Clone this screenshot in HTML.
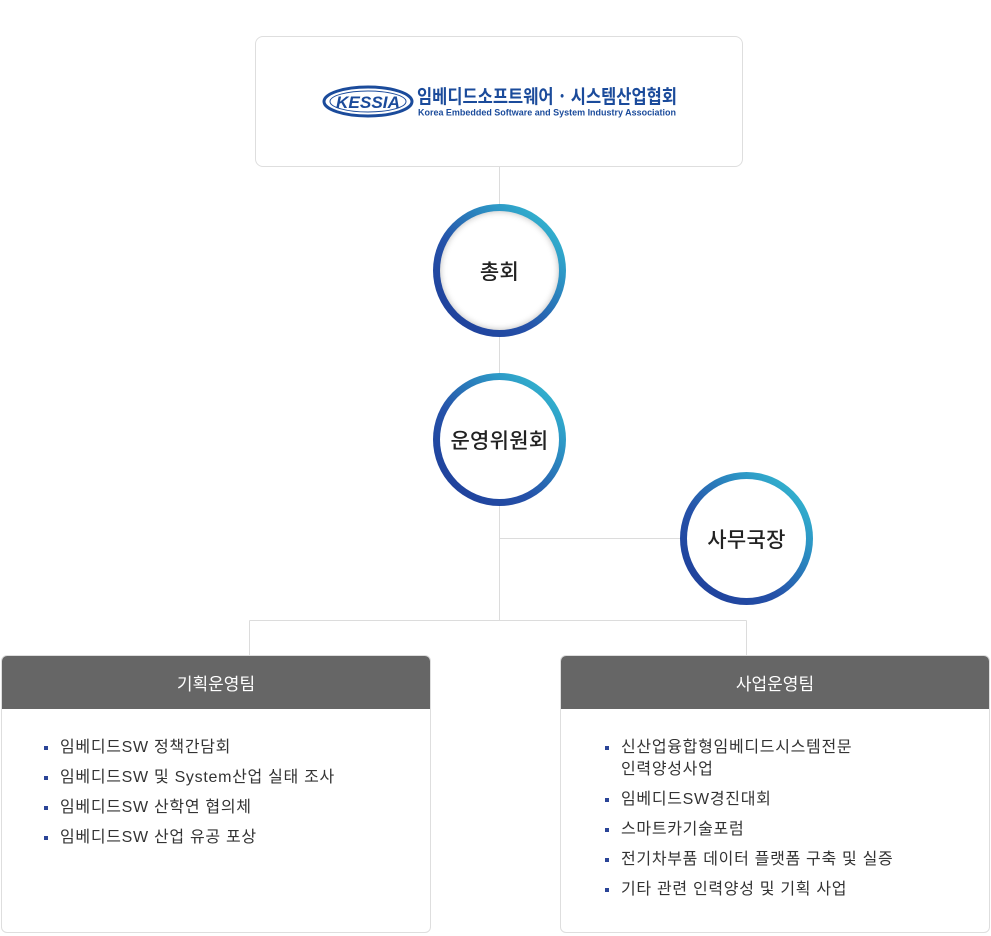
<!DOCTYPE html>
<html><head><meta charset="utf-8">
<style>
html,body{margin:0;padding:0;background:#fff;}
body{width:991px;height:936px;position:relative;overflow:hidden;font-family:"Liberation Sans","Noto Sans CJK KR",sans-serif;}
.abs{position:absolute;}
.logo{left:255px;top:36px;width:488px;height:131px;border:1px solid #dedede;border-radius:8px;box-sizing:border-box;}
.circ{position:absolute;width:133px;height:133px;border-radius:50%;background:linear-gradient(to top right,#1c3995 0%,#2552a9 40%,#2d97c6 72%,#37c8d4 100%);}
.circ .in{position:absolute;left:7px;top:7px;right:7px;bottom:7px;border-radius:50%;background:#fff;display:flex;align-items:center;justify-content:center;font-family:"Noto Sans CJK KR",sans-serif;font-size:21px;font-weight:500;color:#222;letter-spacing:0.3px;}
.box{position:absolute;top:655px;width:430px;height:278px;border:1px solid #dedede;border-radius:6px;box-sizing:border-box;overflow:hidden;}
.hd{height:54px;background:#666;color:#fff;font-family:"Noto Sans CJK KR",sans-serif;font-size:17px;display:flex;align-items:center;justify-content:center;margin:-1px -1px 0 -1px;border-radius:6px 6px 0 0;}
.item{position:absolute;font-family:"Liberation Sans","Noto Sans CJK KR",sans-serif;font-size:16px;letter-spacing:0.7px;line-height:22px;color:#333;white-space:nowrap;}
.bul{position:absolute;width:4px;height:4px;background:#2b4597;}
</style></head><body>

<svg class="abs" style="left:0;top:0" width="991" height="936">
  <g stroke="#dcdcdc" stroke-width="1" fill="none">
    <line x1="499.5" y1="166" x2="499.5" y2="205"/>
    <line x1="499.5" y1="336" x2="499.5" y2="374"/>
    <line x1="499.5" y1="505" x2="499.5" y2="620.5"/>
    <line x1="499.5" y1="538.5" x2="681" y2="538.5"/>
    <line x1="249.5" y1="620.5" x2="746.5" y2="620.5"/>
    <line x1="249.5" y1="620.5" x2="249.5" y2="656"/>
    <line x1="746.5" y1="620.5" x2="746.5" y2="656"/>
  </g>
</svg>

<div class="abs logo"></div>
<svg class="abs" style="left:320px;top:82px" width="370" height="40">
  <ellipse cx="48" cy="19.5" rx="44" ry="14.5" fill="none" stroke="#1b4b9b" stroke-width="3"/>
  <ellipse cx="48" cy="19.5" rx="38" ry="10.5" fill="none" stroke="#1b4b9b" stroke-width="1"/>
  <text x="48" y="26" text-anchor="middle" font-family="Liberation Sans, sans-serif" font-weight="bold" font-style="italic" font-size="17" fill="#1b4b9b" textLength="64" lengthAdjust="spacingAndGlyphs">KESSIA</text>
  <text x="97" y="21" font-family="Noto Sans CJK KR, sans-serif" font-weight="bold" font-size="19" fill="#1b4b9b" textLength="260" lengthAdjust="spacingAndGlyphs">임베디드소프트웨어 · 시스템산업협회</text>
  <text x="98" y="33.5" font-family="Liberation Sans, sans-serif" font-weight="bold" font-size="9.5" fill="#1b4b9b" textLength="258" lengthAdjust="spacingAndGlyphs">Korea Embedded Software and System Industry Association</text>
</svg>

<div class="circ" style="left:433px;top:204px"><div class="in" style="box-shadow:inset 0 0 7px rgba(0,0,0,0.28);">총회</div></div>
<div class="circ" style="left:433px;top:373px"><div class="in">운영위원회</div></div>
<div class="circ" style="left:680px;top:472px"><div class="in">사무국장</div></div>

<div class="box" style="left:1px;"><div class="hd">기획운영팀</div></div>
<div class="box" style="left:560px;"><div class="hd">사업운영팀</div></div>

<div class="bul" style="left:44px;top:746px"></div><div class="item" style="left:60px;top:737px">임베디드SW 정책간담회</div>
<div class="bul" style="left:44px;top:776px"></div><div class="item" style="left:60px;top:767px">임베디드SW 및 System산업 실태 조사</div>
<div class="bul" style="left:44px;top:806px"></div><div class="item" style="left:60px;top:797px">임베디드SW 산학연 협의체</div>
<div class="bul" style="left:44px;top:836px"></div><div class="item" style="left:60px;top:827px">임베디드SW 산업 유공 포상</div>

<div class="bul" style="left:605px;top:746px"></div><div class="item" style="left:621px;top:737px">신산업융합형임베디드시스템전문<br>인력양성사업</div>
<div class="bul" style="left:605px;top:798px"></div><div class="item" style="left:621px;top:789px">임베디드SW경진대회</div>
<div class="bul" style="left:605px;top:828px"></div><div class="item" style="left:621px;top:819px">스마트카기술포럼</div>
<div class="bul" style="left:605px;top:858px"></div><div class="item" style="left:621px;top:849px">전기차부품 데이터 플랫폼 구축 및 실증</div>
<div class="bul" style="left:605px;top:888px"></div><div class="item" style="left:621px;top:879px">기타 관련 인력양성 및 기획 사업</div>

</body></html>
